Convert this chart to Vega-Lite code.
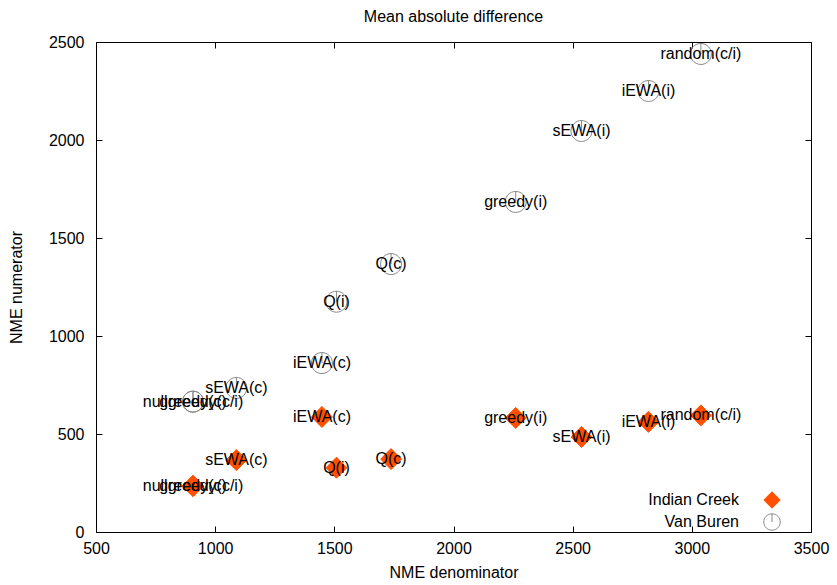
{
  "$schema": "https://vega.github.io/schema/vega-lite/v6.json",
  "width": 715,
  "height": 490,
  "autosize": "none",
  "padding": {"left": 96, "top": 42, "right": 26, "bottom": 53},
  "background": "white",
  "title": {"text": "Mean absolute difference", "fontSize": 16, "font": "Liberation Sans", "fontWeight": "normal", "color": "black", "offset": 9, "anchor": "middle"},
  "config": {
    "view": {"stroke": "black", "strokeWidth": 1},
    "font": "Liberation Sans",
    "axis": {"grid": false, "domain": false, "tickColor": "black", "tickWidth": 1, "tickSize": 6, "offset": -6, "labelColor": "black", "labelFontSize": 16, "labelFont": "Liberation Sans", "titleFont": "Liberation Sans", "titleFontSize": 16, "titleFontWeight": "normal", "titleColor": "black", "labelFlush": false, "labelOverlap": false, "format": "d"}
  },
  "data": {"values": [
    {"series": "Indian Creek", "method": "random(c/i)", "x": 3038, "y": 595},
    {"series": "Indian Creek", "method": "iEWA(i)", "x": 2818, "y": 562},
    {"series": "Indian Creek", "method": "sEWA(i)", "x": 2537, "y": 485},
    {"series": "Indian Creek", "method": "greedy(i)", "x": 2261, "y": 582},
    {"series": "Indian Creek", "method": "Q(c)", "x": 1738, "y": 372},
    {"series": "Indian Creek", "method": "Q(i)", "x": 1509, "y": 328},
    {"series": "Indian Creek", "method": "iEWA(c)", "x": 1448, "y": 587},
    {"series": "Indian Creek", "method": "sEWA(c)", "x": 1089, "y": 367},
    {"series": "Indian Creek", "method": "nullgreedy(c/i)", "x": 907, "y": 235},
    {"series": "Indian Creek", "method": "greedy(c)", "x": 907, "y": 235},
    {"series": "Van Buren", "method": "random(c/i)", "x": 3038, "y": 2439},
    {"series": "Van Buren", "method": "iEWA(i)", "x": 2818, "y": 2250},
    {"series": "Van Buren", "method": "sEWA(i)", "x": 2537, "y": 2046},
    {"series": "Van Buren", "method": "greedy(i)", "x": 2261, "y": 1684},
    {"series": "Van Buren", "method": "Q(c)", "x": 1738, "y": 1367},
    {"series": "Van Buren", "method": "Q(i)", "x": 1509, "y": 1175},
    {"series": "Van Buren", "method": "iEWA(c)", "x": 1448, "y": 862},
    {"series": "Van Buren", "method": "sEWA(c)", "x": 1089, "y": 735},
    {"series": "Van Buren", "method": "nullgreedy(c/i)", "x": 907, "y": 665},
    {"series": "Van Buren", "method": "greedy(c)", "x": 907, "y": 665}
  ]},
  "layer": [
    {
      "mark": {"type": "point", "filled": false, "strokeWidth": 1, "opacity": 1},
      "encoding": {
        "x": {"field": "x", "type": "quantitative", "scale": {"domain": [500, 3500], "nice": false, "zero": false}, "axis": {"orient": "bottom", "values": [500, 1000, 1500, 2000, 2500, 3000, 3500], "title": "NME denominator", "labelPadding": 8, "titlePadding": 8}},
        "y": {"field": "y", "type": "quantitative", "scale": {"domain": [0, 2500], "nice": false}, "axis": {"orient": "left", "values": [0, 500, 1000, 1500, 2000, 2500], "title": "NME numerator", "labelPadding": 12, "titlePadding": 24}},
        "size": {"value": 440},
        "shape": {"field": "series", "type": "nominal", "scale": {"domain": ["Indian Creek", "Van Buren"], "range": ["diamond", "M0,0L0,-1A1,1 0 1 1 -0.001,-1"]}, "legend": {"orient": "none", "legendX": 667, "legendY": 449, "title": null, "labelAlign": "right", "labelOffset": -42, "symbolSize": 270, "rowPadding": 0, "labelFontSize": 16, "labelColor": "black", "padding": 0, "symbolStrokeWidth": 1, "encode": {"symbols": {"update": {"size": {"value": 400}}}}}},
        "fill": {"field": "series", "type": "nominal", "scale": {"domain": ["Indian Creek", "Van Buren"], "range": ["#ff5000", "transparent"]}},
        "stroke": {"field": "series", "type": "nominal", "scale": {"domain": ["Indian Creek", "Van Buren"], "range": ["#ff5000", "#888888"]}}
      }
    },
    {
      "mark": {"type": "text", "fontSize": 16, "font": "Liberation Sans", "color": "black", "align": "center", "baseline": "middle"},
      "encoding": {
        "x": {"field": "x", "type": "quantitative", "axis": null},
        "y": {"field": "y", "type": "quantitative", "axis": null},
        "text": {"field": "method"}
      }
    },
    {
      "mark": {"type": "point", "opacity": 0},
      "encoding": {
        "x": {"field": "x", "type": "quantitative", "axis": {"orient": "top", "values": [500, 1000, 1500, 2000, 2500, 3000, 3500], "labels": false, "title": null}},
        "y": {"field": "y", "type": "quantitative", "axis": {"orient": "right", "values": [0, 500, 1000, 1500, 2000, 2500], "labels": false, "title": null}}
      }
    }
  ],
  "resolve": {"axis": {"x": "independent", "y": "independent"}}
}
